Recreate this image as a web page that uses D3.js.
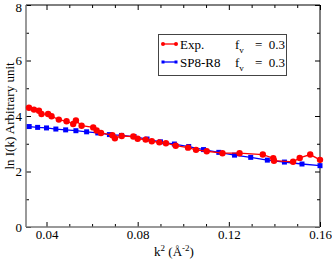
<!DOCTYPE html>
<html lang="en">
<head>
<meta charset="UTF-8">
<title>ln I(k) vs k^2</title>
<script src="https://d3js.org/d3.v7.min.js"></script>
<style>
  body { margin: 0; background: #fff; }
  svg text { font-family: "Times New Roman", "Liberation Serif", "Nimbus Roman", "DejaVu Serif", serif !important; }
</style>
</head>
<body>
<script>
// Exp. data (red circles)
const expK2 = [0.0323, 0.0345, 0.0367, 0.0378, 0.0407, 0.0422, 0.0454, 0.0488, 0.0517, 0.0529,
               0.0554, 0.0605, 0.0620, 0.0639, 0.0689, 0.0700, 0.0730, 0.0781, 0.0800, 0.0835,
               0.0862, 0.0895, 0.0924, 0.0967, 0.1021, 0.1056, 0.1103, 0.1172, 0.1247, 0.1349,
               0.1395, 0.1398, 0.1482, 0.1511, 0.1557, 0.1600];
const expLnI = [4.30, 4.23, 4.19, 4.07, 4.07, 3.99, 3.87, 3.81, 3.71, 3.84,
                3.65, 3.59, 3.48, 3.39, 3.31, 3.20, 3.28, 3.26, 3.18, 3.15,
                3.09, 3.05, 3.02, 2.93, 2.86, 2.78, 2.73, 2.66, 2.66, 2.61,
                2.48, 2.39, 2.35, 2.49, 2.61, 2.42];

// SP8-R8 model (blue squares)
const simK2 = [0.0324, 0.0361, 0.0400, 0.0441, 0.0484, 0.0529, 0.0576, 0.0625, 0.0676, 0.0729,
               0.0784, 0.0841, 0.0900, 0.0961, 0.1024, 0.1089, 0.1156, 0.1225, 0.1296, 0.1369,
               0.1444, 0.1521, 0.1600];
const simLnI = [3.62, 3.59, 3.57, 3.53, 3.50, 3.47, 3.43, 3.39, 3.33, 3.30,
                3.26, 3.17, 3.07, 2.99, 2.90, 2.79, 2.69, 2.59, 2.51, 2.41,
                2.34, 2.27, 2.21];

const xMajor = [0.04, 0.08, 0.12, 0.16];
const xMinor = [0.05, 0.06, 0.07, 0.09, 0.10, 0.11, 0.13, 0.14, 0.15];
const yMajor = [0, 2, 4, 6, 8];
const yMinor = [1, 3, 5, 7];

const legendNames = ["Exp.", "SP8-R8"];
const legendFv = ["0.3", "0.3"];

const W = 332, H = 261;
const L = 26, R = 320, T = 5, B = 227;
const FONT = "'Times New Roman', 'Liberation Serif', 'DejaVu Serif', serif";

const x = d3.scaleLinear().domain([0.031, 0.16]).range([L, R]);
const y = d3.scaleLinear().domain([0, 8]).range([B, T]);

const svg = d3.select("body").append("svg")
    .attr("width", W).attr("height", H)
    .attr("font-family", FONT);

// frame (top/right thin black)
svg.append("line").attr("x1", L).attr("x2", R).attr("y1", T).attr("y2", T)
   .attr("stroke", "#000").attr("stroke-width", 1);
svg.append("line").attr("x1", R).attr("x2", R).attr("y1", T).attr("y2", B)
   .attr("stroke", "#000").attr("stroke-width", 1);

function styleAxis(g) {
  g.attr("font-family", FONT);
  g.select(".domain").remove();
  g.selectAll(".tick line").attr("stroke", "#000").attr("stroke-width", 1);
  g.selectAll("text").attr("font-size", 13).attr("fill", "#000");
}

// bottom axis
svg.append("g").attr("transform", `translate(0,${B})`)
   .call(d3.axisBottom(x).tickValues(xMajor).tickSize(-5).tickPadding(3)
        .tickFormat(d3.format(".2f")))
   .call(styleAxis);
svg.append("g").attr("transform", `translate(0,${B})`)
   .call(d3.axisBottom(x).tickValues(xMinor).tickSize(-3).tickFormat(""))
   .call(styleAxis);

// top axis ticks
svg.append("g").attr("transform", `translate(0,${T})`)
   .call(d3.axisTop(x).tickValues(xMajor).tickSize(-5).tickFormat(""))
   .call(styleAxis);
svg.append("g").attr("transform", `translate(0,${T})`)
   .call(d3.axisTop(x).tickValues(xMinor).tickSize(-3).tickFormat(""))
   .call(styleAxis);

// left axis
const gl = svg.append("g").attr("transform", `translate(${L},0)`)
   .call(d3.axisLeft(y).tickValues(yMajor).tickSize(-5).tickPadding(4))
   .call(styleAxis);
// keep the top label inside the picture
gl.selectAll(".tick text").filter(d => d === 8).attr("dy", "0.5em");
svg.append("g").attr("transform", `translate(${L},0)`)
   .call(d3.axisLeft(y).tickValues(yMinor).tickSize(-3).tickFormat(""))
   .call(styleAxis);

// right axis ticks
svg.append("g").attr("transform", `translate(${R},0)`)
   .call(d3.axisRight(y).tickValues(yMajor).tickSize(-5).tickFormat(""))
   .call(styleAxis);
svg.append("g").attr("transform", `translate(${R},0)`)
   .call(d3.axisRight(y).tickValues(yMinor).tickSize(-3).tickFormat(""))
   .call(styleAxis);

// left & bottom frame lines (gray)
svg.append("line").attr("x1", L).attr("x2", L).attr("y1", T).attr("y2", B)
   .attr("stroke", "#777").attr("stroke-width", 1.5);
svg.append("line").attr("x1", L).attr("x2", R).attr("y1", B).attr("y2", B)
   .attr("stroke", "#777").attr("stroke-width", 1.5);

// series
const line = d3.line().x(d => x(d[0])).y(d => y(d[1]));
const expData = expK2.map((k, i) => [k, expLnI[i]]);
const simData = simK2.map((k, i) => [k, simLnI[i]]);

svg.append("path").datum(simData).attr("d", line)
   .attr("fill", "none").attr("stroke", "#0000ff").attr("stroke-width", 1.3);
svg.append("g").selectAll("rect").data(simData).enter().append("rect")
   .attr("x", d => x(d[0]) - 2.5).attr("y", d => y(d[1]) - 2.5)
   .attr("width", 5).attr("height", 5).attr("fill", "#0000ff");

svg.append("path").datum(expData).attr("d", line)
   .attr("fill", "none").attr("stroke", "#ff0000").attr("stroke-width", 1.3);
svg.append("g").selectAll("circle").data(expData).enter().append("circle")
   .attr("cx", d => x(d[0])).attr("cy", d => y(d[1])).attr("r", 3.2)
   .attr("fill", "#ff0000");

// axis titles
const xt = svg.append("text").attr("x", 174).attr("y", 256)
   .attr("text-anchor", "middle").attr("font-size", 13);
xt.append("tspan").text("k");
xt.append("tspan").attr("dy", -5).attr("font-size", 9).text("2");
xt.append("tspan").attr("dy", 5).text(" (Å");
xt.append("tspan").attr("dy", -5).attr("font-size", 9).text("-2");
xt.append("tspan").attr("dy", 5).text(")");

svg.append("text").attr("transform", "translate(14,116) rotate(-90)")
   .attr("text-anchor", "middle").attr("font-size", 13)
   .text("ln I(k) Arbitrary unit");

// legend
const lg = svg.append("g");
lg.append("rect").attr("x", 158.5).attr("y", 34.5).attr("width", 128).attr("height", 41)
  .attr("fill", "#fff").attr("stroke", "#444").attr("stroke-width", 1);
const colors = ["#ff0000", "#0000ff"];
legendNames.forEach((name, i) => {
  const cy = 44 + i * 18;
  lg.append("line").attr("x1", 163).attr("x2", 176).attr("y1", cy).attr("y2", cy)
    .attr("stroke", colors[i]).attr("stroke-width", 1.3);
  [163, 176].forEach(px => {
    if (i === 0) {
      lg.append("circle").attr("cx", px).attr("cy", cy).attr("r", 2).attr("fill", colors[i]);
    } else {
      lg.append("rect").attr("x", px - 1.5).attr("y", cy - 1.5).attr("width", 3).attr("height", 3)
        .attr("fill", colors[i]);
    }
  });
  lg.append("text").attr("x", 180).attr("y", cy + 4.5).attr("font-size", 13).text(name);
  const ft = lg.append("text").attr("x", 235).attr("y", cy + 4.5).attr("font-size", 13);
  ft.append("tspan").text("f");
  ft.append("tspan").attr("dy", 4).attr("font-size", 9).text("v");
  ft.append("tspan").attr("dy", -4).attr("x", 255).text("=\u00a0\u00a0" + legendFv[i]);
});
</script>
</body>
</html>
